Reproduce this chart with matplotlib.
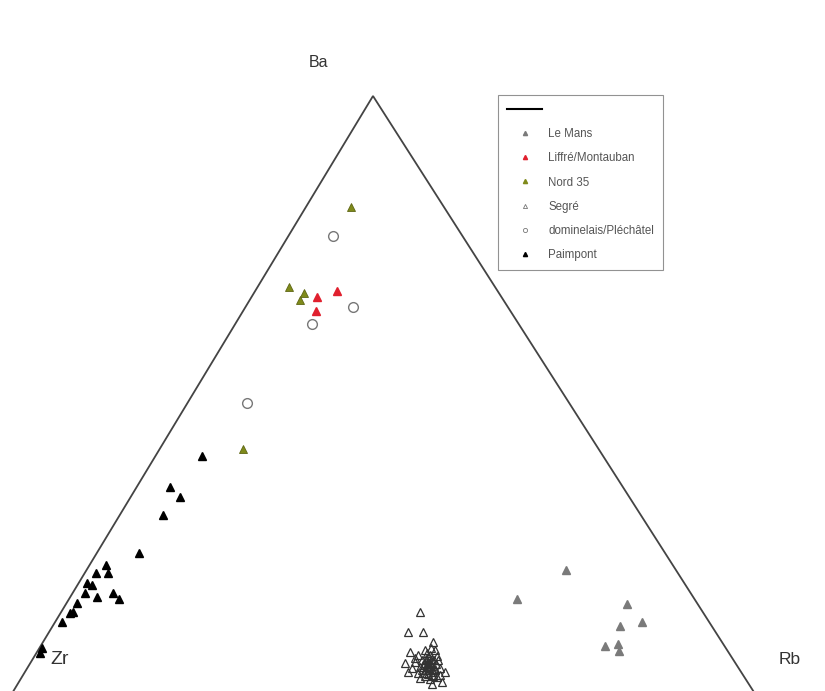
import matplotlib.pyplot as plt
from matplotlib.lines import Line2D
import numpy as np

plt.rcParams['font.family'] = ['Liberation Sans', 'DejaVu Sans']

# ternary compositions in %, (Zr, Ba, Rb)
lemans_zr = [14.7, 23.6, 9.4, 9.0, 12.3, 15.9, 14.0, 14.5]
lemans_ba = [21.5, 16.7, 15.9, 12.9, 12.2, 8.9, 9.3, 8.1]
lemans_rb = [63.8, 59.7, 74.7, 78.1, 75.5, 75.2, 76.7, 77.4]

liffre_zr = [24.6, 21.4, 25.9]
liffre_ba = [66.7, 67.7, 64.4]
liffre_rb = [8.7, 10.9, 9.7]

nord_zr = [12.4, 27.4, 25.9, 27.1, 47.3]
nord_ba = [81.6, 68.4, 67.4, 66.2, 41.6]
nord_rb = [6.0, 4.2, 6.7, 6.7, 11.1]

segre_zr = [37.6, 40.9, 38.9, 38.5, 42.4, 44.0, 44.4, 41.6, 40.2, 40.0,
            38.9, 41.5, 40.8, 40.7, 39.4, 42.3, 41.8, 41.1, 39.7, 42.6,
            42.4, 42.0, 40.9, 40.7, 43.1, 40.4, 39.9, 41.8, 41.2, 39.9,
            43.5, 43.3, 42.2, 40.4, 39.5, 40.2, 42.2, 39.1, 39.3, 42.3,
            41.0, 40.6, 41.4, 40.1, 42.0, 41.2, 41.4, 40.7, 41.4, 41.0,
            42.3, 41.9, 40.5, 40.3, 40.8, 41.3]
segre_ba = [14.6, 11.3, 11.3, 9.6, 8.0, 6.1, 4.6, 7.4, 8.3, 7.4,
            8.3, 6.6, 6.3, 5.6, 6.6, 5.5, 5.0, 4.6, 5.3, 6.3,
            4.0, 3.5, 3.8, 3.0, 4.5, 7.1, 6.6, 5.8, 5.3, 6.0,
            5.3, 3.6, 2.6, 4.1, 4.6, 7.8, 7.0, 7.3, 8.6, 4.5,
            6.0, 5.0, 4.2, 6.8, 4.9, 5.6, 6.1, 6.1, 5.5, 5.0,
            5.0, 4.3, 5.1, 6.6, 6.8, 4.0]
segre_rb = [47.8, 47.8, 49.8, 51.9, 49.6, 49.9, 51.0, 51.0, 51.5, 52.6,
            52.8, 51.9, 52.9, 53.7, 54.0, 52.2, 53.2, 54.3, 55.0, 51.1,
            53.6, 54.5, 55.3, 56.3, 52.4, 52.5, 53.5, 52.4, 53.5, 54.1,
            51.2, 53.1, 55.2, 55.5, 55.9, 52.0, 50.8, 53.6, 52.1, 53.2,
            53.0, 54.4, 54.4, 53.1, 53.1, 53.2, 52.5, 53.2, 53.1, 54.0,
            52.7, 53.8, 54.4, 53.1, 52.4, 54.7]

plech_zr = [17.3, 20.6, 27.5, 42.9]
plech_ba = [76.8, 65.1, 62.3, 49.2]
plech_rb = [5.9, 14.3, 10.2, 7.9]

paimp_zr = [53.4, 60.3, 59.8, 63.6, 70.1, 75.5, 77.5, 75.9, 79.5, 79.1,
            80.7, 79.3, 76.9, 76.6, 82.5, 83.8, 84.3, 86.2, 91.1, 91.7]
paimp_ba = [40.4, 35.3, 33.6, 30.6, 24.3, 22.3, 21.0, 21.0, 19.4, 19.0,
            17.7, 17.1, 17.7, 16.7, 16.1, 14.6, 14.4, 12.9, 8.6, 7.8]
paimp_rb = [6.2, 4.4, 6.6, 5.8, 5.6, 2.2, 1.5, 3.1, 1.1, 1.9,
            1.6, 3.6, 5.4, 6.7, 1.4, 1.6, 1.3, 0.9, 0.3, 0.5]

labels = ['Le Mans', 'Liffré/Montauban', 'Nord 35', 'Segré',
          'dominelais/Pléchâtel', 'Paimpont']

# triangle corners in figure-pixel space (Zr, Ba, Rb)
ZR = np.array([8.0, 700.0])
BA = np.array([373.0, 96.0])
RB = np.array([759.0, 700.0])


def tern(zr, ba, rb):
    zr, ba, rb = np.asarray(zr), np.asarray(ba), np.asarray(rb)
    s = zr + ba + rb
    x = (zr * ZR[0] + ba * BA[0] + rb * RB[0]) / s
    y = (zr * ZR[1] + ba * BA[1] + rb * RB[1]) / s
    return x, y


fig = plt.figure(figsize=(8.25, 6.91), dpi=100)
ax = fig.add_axes([0, 0, 1, 1])
ax.set_xlim(0, 825)
ax.set_ylim(691, 0)
ax.axis('off')

# frame (the bottom edge falls outside the picture)
ax.plot([ZR[0], BA[0], RB[0]], [ZR[1], BA[1], RB[1]], color='#444444', lw=1.3,
        solid_joinstyle='miter')

ms = 6
x, y = tern(segre_zr, segre_ba, segre_rb)
ax.plot(x, y, '^', ms=ms, mfc='none', mec='#333333', mew=0.9)
x, y = tern(lemans_zr, lemans_ba, lemans_rb)
ax.plot(x, y, '^', ms=ms, color='#7a7a7a')
x, y = tern(liffre_zr, liffre_ba, liffre_rb)
ax.plot(x, y, '^', ms=ms, color='#e0202e')
x, y = tern(nord_zr, nord_ba, nord_rb)
ax.plot(x, y, '^', ms=ms, mfc='#7f8a1a', mec='#5e6614', mew=0.6)
x, y = tern(plech_zr, plech_ba, plech_rb)
ax.plot(x, y, 'o', ms=7, mfc='none', mec='#777777', mew=1.0)
x, y = tern(paimp_zr, paimp_ba, paimp_rb)
ax.plot(x, y, '^', ms=ms, color='black')

ax.text(318, 62, 'Ba', fontsize=11.5, color='#333333', ha='center', va='center')
ax.text(60, 660, 'Zr', fontsize=14, color='#333333', ha='center', va='center')
ax.text(790, 660, 'Rb', fontsize=12.5, color='#333333', ha='center', va='center')

handles = [Line2D([], [], color='black', lw=1.5),
           Line2D([], [], marker='^', ls='', ms=3, color='#7a7a7a'),
           Line2D([], [], marker='^', ls='', ms=3, color='#e0202e'),
           Line2D([], [], marker='^', ls='', ms=3, color='#7f8a1a'),
           Line2D([], [], marker='^', ls='', ms=3, mfc='none', mec='#777777', mew=0.6),
           Line2D([], [], marker='o', ls='', ms=3, mfc='none', mec='#777777', mew=0.6),
           Line2D([], [], marker='^', ls='', ms=3, color='black')]
leg = ax.legend(handles, [''] + labels, loc='upper left',
                bbox_to_anchor=(498 / 825, 1 - 95 / 691), borderaxespad=0,
                fontsize=8.3, labelcolor='#555555', frameon=True,
                fancybox=False, edgecolor='#777777', labelspacing=1.05,
                handlelength=3.0, borderpad=0.8, handletextpad=0.55)
leg.get_frame().set_linewidth(0.8)

fig.savefig('out.png', dpi=100)
